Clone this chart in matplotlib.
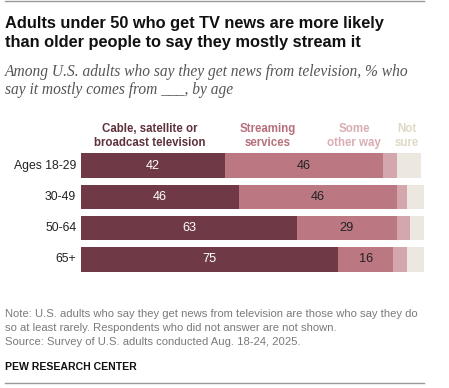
import matplotlib
matplotlib.use("Agg")
import matplotlib.pyplot as plt
import numpy as np

W, H = 449, 388

ages = ["Ages 18-29", "30-49", "50-64", "65+"]
cable = [42, 46, 63, 75]
streaming = [46, 46, 29, 16]
other = [4, 3, 4, 4]
not_sure = [7, 5, 4, 5]

series_names = ["Cable, satellite or\nbroadcast television", "Streaming\nservices",
                "Some\nother way", "Not\nsure"]
C_CABLE = "#6f3a46"
C_STREAM = "#bb7782"
C_OTHER = "#d4a6ad"
C_NS = "#ece8e0"
colors = [C_CABLE, C_STREAM, C_OTHER, C_NS]
header_colors = ["#5e323c", "#b66f7b", "#d9adb3", "#e0d9c4"]

SANS = ["Liberation Sans", "DejaVu Sans"]
SERIF = ["Liberation Serif", "DejaVu Serif"]


def px(x, y):
    return x / W, 1 - y / H


fig = plt.figure(figsize=(W / 100, H / 100), dpi=100)

# axes placed in pixel space: x 81..424, rows 150..275
ax = fig.add_axes([81 / W, 1 - 274.7 / H, 343 / W, 124.4 / H])
ax.set_xlim(0, 100)
ax.set_ylim(3.5, -0.5)
ax.axis("off")

y = np.arange(len(ages))
left = np.zeros(len(ages))
for vals, col in zip([cable, streaming, other, not_sure], colors):
    ax.barh(y, vals, left=left, height=0.8, color=col, edgecolor="none")
    left += np.array(vals)

for i in range(len(ages)):
    ax.text(cable[i] / 2, i, str(cable[i]), ha="center", va="center",
            color="white", fontsize=9.2, family=SANS)
    ax.text(cable[i] + streaming[i] / 2, i, str(streaming[i]), ha="center",
            va="center", color="#222222", fontsize=9.2, family=SANS)
    ax.text(-1.4, i, ages[i], ha="right", va="center", color="#222222",
            fontsize=8.8, family=SANS)

# column headers
for name, hx, col in zip(series_names, [150, 268, 354, 407], header_colors):
    fig.text(*px(hx, 136), name, ha="center", va="center", color=col,
             fontsize=8.3, fontweight="bold", family=SANS, linespacing=1.15)

# rules top and bottom
fig.add_artist(plt.Line2D([5 / W, 424 / W], [1 - 0.8 / H, 1 - 0.8 / H],
                          color="#999999", linewidth=1.0))
fig.add_artist(plt.Line2D([5 / W, 424 / W], [1 - 383 / H, 1 - 383 / H],
                          color="#999999", linewidth=1.0))

fig.text(*px(5, 33), "Adults under 50 who get TV news are more likely\n"
         "than older people to say they mostly stream it",
         ha="left", va="center", fontsize=11.8, fontweight="bold",
         color="#111111", family=SANS, linespacing=1.3)
fig.text(*px(5, 81), "Among U.S. adults who say they get news from television, % who\n"
         "say it mostly comes from ___, by age",
         ha="left", va="center", fontsize=11.2, style="italic",
         color="#555555", family=SERIF, linespacing=1.25)
fig.text(*px(5, 328), "Note: U.S. adults who say they get news from television are those who say they do\n"
         "so at least rarely. Respondents who did not answer are not shown.\n"
         "Source: Survey of U.S. adults conducted Aug. 18-24, 2025.",
         ha="left", va="center", fontsize=8.1, color="#7a7a7a",
         family=SANS, linespacing=1.5)
fig.text(*px(5, 367), "PEW RESEARCH CENTER", ha="left", va="center",
         fontsize=7.6, fontweight="bold", color="#111111", family=SANS)

fig.savefig("out.png", dpi=100, facecolor="white")
